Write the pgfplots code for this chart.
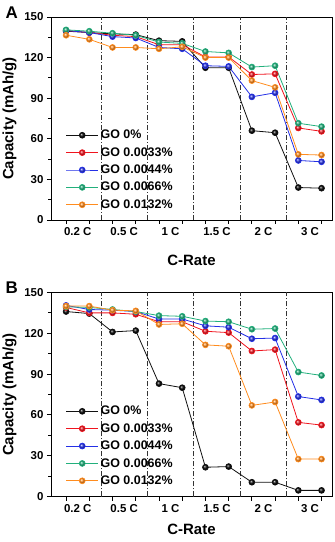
\documentclass[border=0pt]{standalone}
\usepackage{fontspec}
\setmainfont{Liberation Sans}
\usepackage{pgfplots}
\pgfplotsset{compat=1.18}
\usetikzlibrary{plotmarks}

\definecolor{cBlack}{HTML}{111111}
\definecolor{cRed}{HTML}{F0141E}
\definecolor{cBlue}{HTML}{2430E6}
\definecolor{cGreen}{HTML}{22B07C}
\definecolor{cOrange}{HTML}{FF8C1E}

\tikzset{sepline/.style={draw=black!80, line width=0.7bp,
  dash pattern=on 5bp off 2bp on 1bp off 2bp}}

\pgfplotsset{
  crate/.style={
    scale only axis, width=281bp,
    xmin=0.35, xmax=12.45, ymin=0, ymax=150,
    xtick={1,...,12}, xticklabels={},
    extra x ticks={1.5,3.5,5.5,7.5,9.5,11.5},
    extra x tick labels={0.2 C,0.5 C,1 C,1.5 C,2 C,3 C},
    extra x tick style={major tick length=0pt,
      tick label style={yshift=-4bp}},
    ytick={0,30,...,150}, minor y tick num=1,
    tick align=outside, xtick pos=bottom, ytick pos=left,
    major tick length=4bp, minor tick length=2.5bp,
    tick style={black, line width=0.8bp},
    axis line style={line width=0.9bp},
    /pgf/number format/assume math mode=true,
    ticklabel style={font=\fontsize{11.5}{12}\selectfont\bfseries},
    xlabel={C-Rate}, ylabel={Capacity (mAh/g)},
    label style={font=\fontsize{15}{16}\selectfont\bfseries},
    ylabel style={yshift=1bp},
    legend style={draw=none, fill=none, inner sep=0pt,
      font=\fontsize{12.5}{13}\selectfont\bfseries,
      row sep=3.2bp, cells={anchor=west},
      legend cell align=left},
    legend image code/.code={
      \draw[mark repeat=2, mark phase=2, #1]
        plot coordinates {(0bp,0bp) (16bp,0bp) (32bp,0bp)};},
    every axis plot/.append style={line width=0.8bp, mark=ball, mark size=2.9bp},
  },
  s0/.style={cBlack, mark options={ball color=black}},
  s1/.style={cRed, mark options={ball color=cRed}},
  s2/.style={cBlue, mark options={ball color=cBlue}},
  s3/.style={cGreen, mark options={ball color=cGreen}},
  s4/.style={cOrange, mark options={ball color=cOrange}},
}

\begin{document}
\begin{tikzpicture}

% panel A
\begin{axis}[crate, at={(51bp,322bp)}, anchor=south west, height=203bp,
  xlabel style={yshift=-9bp},
  legend style={at={(axis cs:0.98,68)}, anchor=north west}]
  \foreach \v in {2.5,4.5,6.5,8.5,10.5}{
    \edef\tmp{\noexpand\draw[sepline] (axis cs:\v,0) -- (axis cs:\v,150);}\tmp}
  \addplot[s0] coordinates {(1,139.5)(2,138.5)(3,137.5)(4,137)(5,132.5)(6,132)
    (7,112.5)(8,112.5)(9,66)(10,64.5)(11,24)(12,23.5)};
  \addplot[s1] coordinates {(1,140)(2,138.5)(3,136.5)(4,135.5)(5,129.5)(6,129.5)
    (7,120.5)(8,120.5)(9,107.5)(10,108)(11,68)(12,65.5)};
  \addplot[s2] coordinates {(1,140)(2,138.5)(3,135.5)(4,134.5)(5,127.5)(6,126.5)
    (7,114)(8,113.5)(9,91)(10,94)(11,44)(12,43)};
  \addplot[s3] coordinates {(1,140.5)(2,139.5)(3,138)(4,136.5)(5,131.5)(6,130.5)
    (7,124.5)(8,123.5)(9,113)(10,114)(11,71.5)(12,69)};
  \addplot[s4] coordinates {(1,136.5)(2,133.5)(3,127.5)(4,127.5)(5,126.5)(6,128)
    (7,120)(8,120)(9,103)(10,98)(11,48.5)(12,48)};
  \legend{GO 0\%,GO 0.0033\%,GO 0.0044\%,GO 0.0066\%,GO 0.0132\%}
\end{axis}

% panel B
\begin{axis}[crate, at={(51bp,45.5bp)}, anchor=south west, height=204bp,
  xlabel style={yshift=-1.5bp},
  legend style={at={(axis cs:0.98,68)}, anchor=north west}]
  \foreach \v in {2.5,4.5,6.5,8.5,10.5}{
    \edef\tmp{\noexpand\draw[sepline] (axis cs:\v,0) -- (axis cs:\v,150);}\tmp}
  \addplot[s0] coordinates {(1,136)(2,134.5)(3,121)(4,122)(5,83)(6,80)
    (7,21.5)(8,22)(9,10.5)(10,10.5)(11,4.5)(12,4.5)};
  \addplot[s1] coordinates {(1,139)(2,135)(3,135)(4,134)(5,128.5)(6,128.5)
    (7,121.5)(8,120.5)(9,107)(10,108)(11,54.5)(12,52.5)};
  \addplot[s2] coordinates {(1,140.5)(2,137.5)(3,137)(4,136)(5,130.5)(6,130.5)
    (7,125.5)(8,124.5)(9,116)(10,116.5)(11,73.5)(12,71)};
  \addplot[s3] coordinates {(1,139.5)(2,139)(3,137.5)(4,136)(5,133)(6,132.5)
    (7,129)(8,128.5)(9,123)(10,123.5)(11,91.5)(12,89)};
  \addplot[s4] coordinates {(1,140)(2,140)(3,137)(4,136.5)(5,126.5)(6,127)
    (7,111.5)(8,110.5)(9,67)(10,69.5)(11,27.5)(12,27.5)};
  \legend{GO 0\%,GO 0.0033\%,GO 0.0044\%,GO 0.0066\%,GO 0.0132\%}
\end{axis}

\node[font=\fontsize{17}{18}\selectfont\bfseries, anchor=west] at (2bp,529.5bp) {A};
\node[font=\fontsize{17}{18}\selectfont\bfseries, anchor=west] at (2bp,254bp) {B};

\pgfresetboundingbox
\useasboundingbox (0,0) rectangle (335bp,542bp);
\end{tikzpicture}
\end{document}
